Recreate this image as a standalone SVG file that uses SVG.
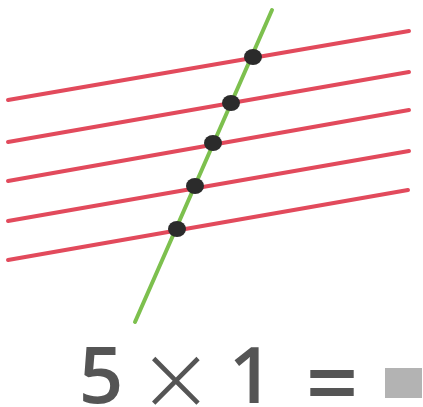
<svg xmlns="http://www.w3.org/2000/svg" width="423" height="407" viewBox="0 0 423 407">
<style>
.red{stroke:#e24a5c;stroke-width:4;stroke-linecap:round;fill:none}
.green{stroke:#7dc04e;stroke-width:4;stroke-linecap:round;fill:none}
.dot{fill:#2b2b2b}
.t{font-family:"Open Sans","DejaVu Sans",sans-serif;fill:#555;font-size:78px;font-weight:600}
.op{font-family:"Open Sans","DejaVu Sans",sans-serif;fill:#555}
</style>
<rect width="423" height="407" fill="#fff"/>
<g id="connectors">
<line class="red" x1="8" y1="100" x2="409" y2="31"/>
<line class="red" x1="8" y1="142" x2="409" y2="72"/>
<line class="red" x1="8" y1="181" x2="409" y2="110"/>
<line class="red" x1="8" y1="221" x2="409" y2="151"/>
<line class="red" x1="8" y1="260" x2="408" y2="190"/>
<line class="green" x1="272" y1="10" x2="135" y2="322"/>
</g>
<g id="p1"><ellipse class="dot" cx="253" cy="57" rx="9" ry="8"/></g>
<g id="p2"><ellipse class="dot" cx="231" cy="103" rx="9" ry="8"/></g>
<g id="p3"><ellipse class="dot" cx="213" cy="143" rx="9" ry="8"/></g>
<g id="p4"><ellipse class="dot" cx="195" cy="186" rx="9" ry="8"/></g>
<g id="p5"><ellipse class="dot" cx="177" cy="229" rx="9" ry="8"/></g>
<g id="equation">
<text class="t" x="101" y="403" text-anchor="middle">5</text>
<text class="op" x="176" y="420" text-anchor="middle" font-size="110" font-weight="300">×</text>
<text class="t" x="251" y="403" text-anchor="middle">1</text>
<text class="op" x="332" y="416" text-anchor="middle" font-size="92" font-weight="600">=</text>
<rect x="385" y="368" width="37" height="30" fill="#b3b3b3"/>
</g>
</svg>
